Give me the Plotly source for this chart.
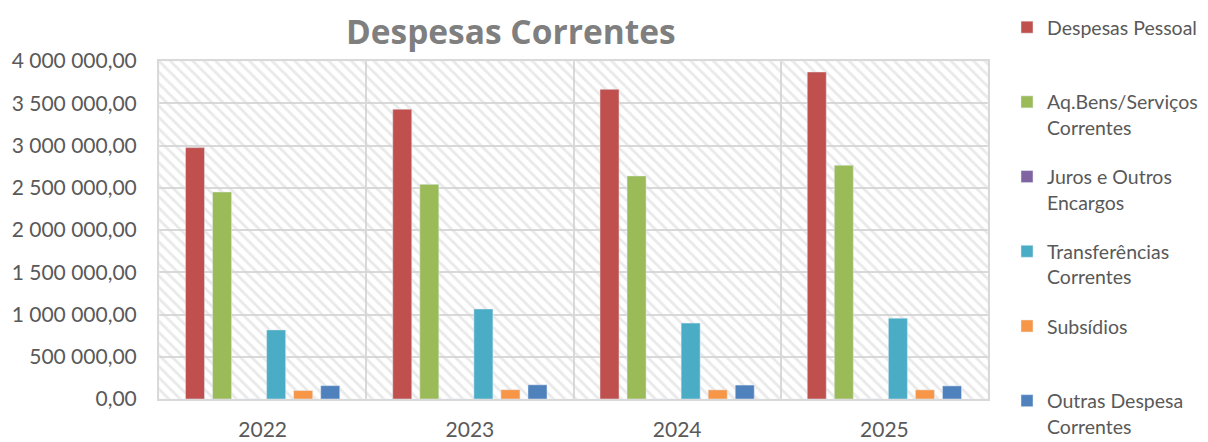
import plotly.graph_objects as go

# Data
years = ['2022', '2023', '2024', '2025']
despesas_pessoal = [2975000, 3430000, 3665000, 3870000]
aq_bens_servicos = [2450000, 2540000, 2640000, 2766000]
juros_encargos = [0, 0, 0, 0]
transferencias = [818000, 1065000, 898000, 957000]
subsidios = [100000, 110000, 108000, 108000]
outras_despesas = [158000, 168000, 165000, 155000]

series = [
    ('Despesas Pessoal<br> ', despesas_pessoal, '#C0504D'),
    ('Aq.Bens/Serviços<br>Correntes', aq_bens_servicos, '#9BBB59'),
    ('Juros e Outros<br>Encargos', juros_encargos, '#8064A2'),
    ('Transferências<br>Correntes', transferencias, '#4BACC6'),
    ('Subsídios<br> ', subsidios, '#F79646'),
    ('Outras Despesa<br>Correntes', outras_despesas, '#4F81BD'),
]

font_family = 'Lato, "Open Sans", sans-serif'
text_grey = '#595959'
grid_grey = '#d9d9d9'

fig = go.Figure()

# hatched plot-area background (Excel style), drawn on the base axes
fig.add_trace(go.Bar(
    x=[0.5], y=[1], width=[1],
    marker=dict(color='rgba(0,0,0,0)',
                pattern=dict(shape='\\', fgcolor='#d3d3d3', bgcolor='rgba(0,0,0,0)',
                             size=8, solidity=0.35)),
    showlegend=False, hoverinfo='skip', xaxis='x', yaxis='y',
))

# the actual series on overlaying axes so they sit above the hatch
for i, (name, values, color) in enumerate(series):
    fig.add_trace(go.Bar(
        x=years, y=values, name=name, marker_color=color,
        legendgroup=f'g{i}', xaxis='x2', yaxis='y2',
    ))

# page body has an 8px margin, so the figure is 8px smaller than the window
fig.update_layout(
    width=1200, height=434,
    margin=dict(l=151, r=220, t=53, b=43, autoexpand=False),
    paper_bgcolor='white', plot_bgcolor='white',
    separators=', ',
    font=dict(family=font_family, color=text_grey, size=20),
    title=dict(text='<b>Despesas Correntes</b>', xref='container', yref='container',
               x=0.419, y=0.943, xanchor='center', yanchor='middle',
               font=dict(size=33.5, color='#7f7f7f', family='"Open Sans", Lato, sans-serif')),
    barmode='group', bargap=0.217, bargroupgap=0.296,
    xaxis=dict(range=[0, 1], visible=False, fixedrange=True),
    yaxis=dict(range=[0, 1], visible=False, fixedrange=True),
    xaxis2=dict(overlaying='x', side='bottom', type='category', tickson='boundaries',
                showgrid=True, gridcolor=grid_grey, gridwidth=2,
                showline=True, linecolor=grid_grey, linewidth=2, mirror=True,
                ticks='', ticklabelstandoff=11, tickfont=dict(size=21)),
    yaxis2=dict(overlaying='y', side='left', range=[0, 4000000], dtick=500000,
                tickformat=',.2f', showgrid=True, gridcolor=grid_grey, gridwidth=2,
                zeroline=False, showline=True, linecolor=grid_grey, linewidth=2,
                mirror=True, ticks='', ticklabelstandoff=16, tickfont=dict(size=21)),
    legend=dict(xref='container', yref='container', x=0.8325, y=1.008,
                xanchor='left', yanchor='top', valign='top', maxheight=600,
                traceorder='grouped', tracegroupgap=21,
                font=dict(size=19.5, color=text_grey), bgcolor='rgba(0,0,0,0)'),
)

fig.write_html('out.html')
